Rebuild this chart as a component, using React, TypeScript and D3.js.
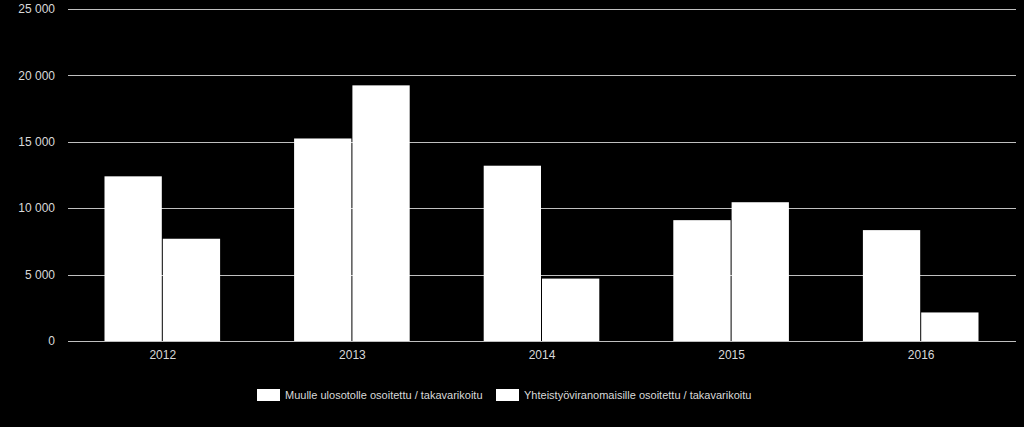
import React from "react";
import * as d3 from "d3";

const years = ["2012", "2013", "2014", "2015", "2016"];
const seriesNames = [
  "Muulle ulosotolle osoitettu / takavarikoitu",
  "Yhteistyöviranomaisille osoitettu / takavarikoitu",
];
const muulle = [12400, 15250, 13200, 9100, 8350];
const yhteistyo = [7700, 19250, 4700, 10450, 2150];
const yTicks = [0, 5000, 10000, 15000, 20000, 25000];

const W = 1024;
const H = 427;
const left = 68;
const right = 1016;
const top = 9;
const bottom = 341;

export default function App() {
  const x = d3.scaleBand<string>().domain(years).range([left, right]).paddingInner(0.385).paddingOuter(0.1925);
  const inner = d3.scaleBand<number>().domain([0, 1]).range([0, x.bandwidth()]);
  const y = d3.scaleLinear().domain([0, 25000]).range([bottom, top]);
  const fmt = (v: number) => d3.format(",")(v).replace(/,/g, " ");
  const series = [muulle, yhteistyo];
  const font = "'Liberation Sans', Arial, sans-serif";
  const legendX = [257, 496];

  return (
    <svg width={W} height={H} style={{ position: "fixed", left: 0, top: 0, background: "#000" }}>
      <rect x={0} y={0} width={W} height={H} fill="#000" />
      {yTicks.map((t) => (
        <g key={t}>
          <line x1={left} x2={right} y1={Math.round(y(t)) + 0.5} y2={Math.round(y(t)) + 0.5} stroke="#bfbfbf" strokeWidth={1} />
          <text x={55} y={y(t)} dy="0.35em" textAnchor="end" fill="#d9d9d9" fontSize={12} fontFamily={font}>
            {fmt(t)}
          </text>
        </g>
      ))}
      {years.map((yr, i) => (
        <g key={yr}>
          {series.map((s, k) => (
            <rect
              key={k}
              x={(x(yr) as number) + inner(k)!}
              y={y(s[i])}
              width={inner.bandwidth() - 1}
              height={y(0) - y(s[i])}
              fill="#ffffff"
            />
          ))}
          <text x={(x(yr) as number) + x.bandwidth() / 2} y={355} dy="0.35em" textAnchor="middle" fill="#d9d9d9" fontSize={12} fontFamily={font}>
            {yr}
          </text>
        </g>
      ))}
      {seriesNames.map((n, k) => (
        <g key={n}>
          <rect x={legendX[k]} y={389} width={23} height={12} fill="#fff" />
          <text x={legendX[k] + 28} y={395} dy="0.35em" fill="#d9d9d9" fontSize={11} fontFamily={font}>
            {n}
          </text>
        </g>
      ))}
    </svg>
  );
}
